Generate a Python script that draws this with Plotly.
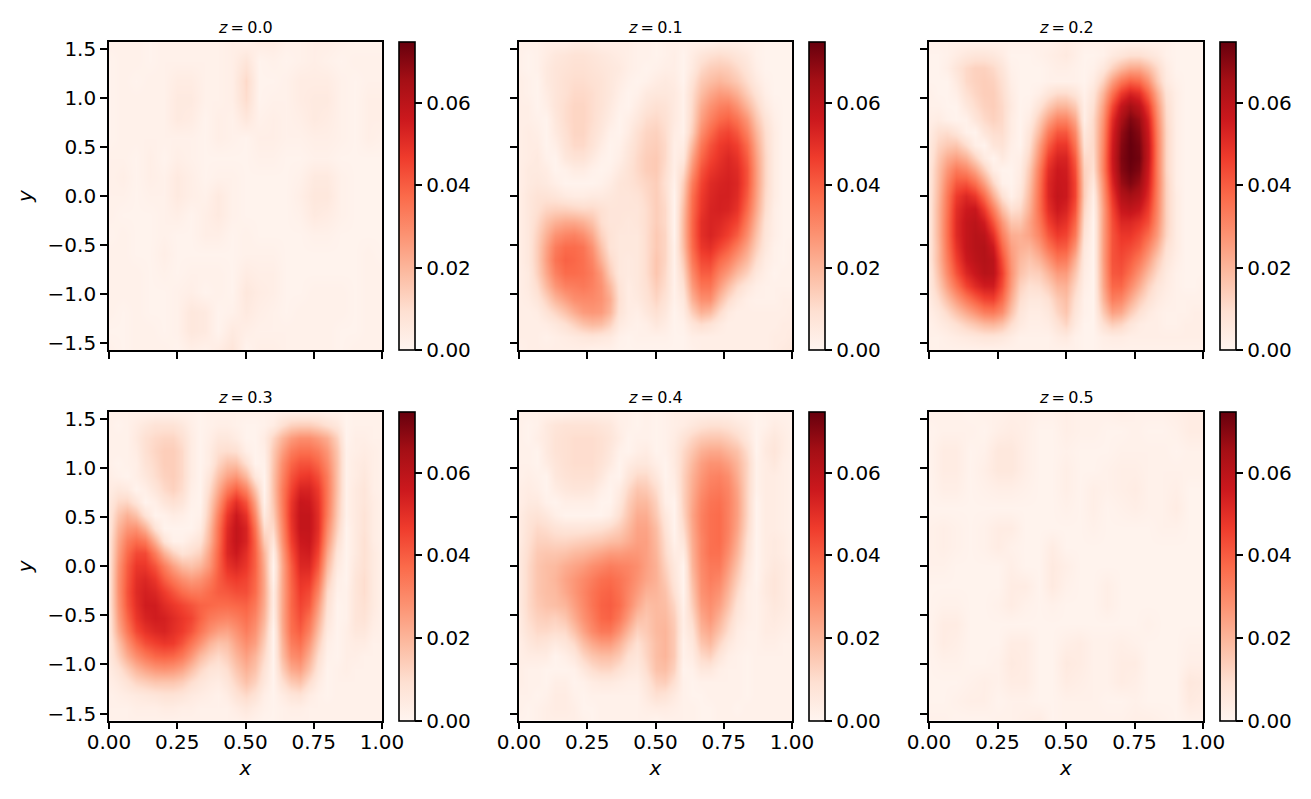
import numpy as np
import plotly.graph_objects as go

# values, in units of 0.001, rows listed from y=+pi/2 down to y=-pi/2
Z00 = [
[2,2,2,1,2,2,2,2,2,3,2,4,4,2,2,3,3,2,1,1,1],
[1,2,2,1,2,2,2,2,2,3,7,1,2,1,2,3,2,1,2,2,2],
[1,2,1,2,2,4,4,2,2,3,11,1,1,2,4,4,4,2,1,2,2],
[1,2,2,2,2,5,5,2,2,3,10,1,2,2,4,5,5,2,1,3,3],
[1,2,2,2,2,5,4,1,3,2,6,2,3,2,3,5,4,2,1,3,3],
[1,2,2,2,2,2,2,1,3,2,1,3,3,2,2,3,3,2,1,3,2],
[2,2,1,3,1,3,2,1,1,1,1,2,2,1,1,2,2,1,1,1,1],
[2,3,1,3,2,5,3,1,2,2,1,1,1,1,2,5,5,2,1,1,1],
[2,2,1,2,2,5,3,2,5,2,1,1,1,1,3,6,6,2,1,1,1],
[2,1,1,1,2,3,1,3,5,2,1,1,1,1,2,5,4,2,1,1,1],
[1,2,1,1,2,1,1,3,3,1,2,1,1,1,1,2,2,1,1,1,1],
[2,2,1,1,3,1,1,1,1,1,2,2,2,1,1,1,1,1,1,2,1],
[2,2,2,1,2,1,2,2,2,1,4,3,3,1,1,1,1,1,1,2,2],
[2,2,2,1,1,2,3,1,2,1,6,4,3,1,1,2,2,2,1,2,2],
[2,1,2,1,1,2,6,5,1,2,5,3,2,1,2,2,2,2,1,2,2],
[1,1,2,2,1,2,6,5,1,5,3,2,2,2,2,2,2,1,1,2,2],
[2,1,2,2,2,1,3,2,4,7,1,3,3,2,2,2,2,1,2,2,2],
]
Z01 = [
[2,2,2,3,3,3,4,4,4,3,3,3,3,2,2,1,2,2,2,2,2,2,3,3,3,2,2,1,1,1,1],
[2,1,2,4,6,7,8,8,7,6,5,4,3,2,2,1,2,3,1,4,7,9,10,9,7,5,2,1,1,1,1],
[2,1,2,5,7,8,9,9,8,7,6,5,3,2,1,2,3,3,1,5,11,14,15,14,11,7,3,1,1,1,1],
[3,2,1,5,7,9,10,10,9,8,6,4,2,1,2,4,5,4,1,8,15,18,20,18,15,10,5,2,1,1,1],
[3,2,1,4,7,9,11,11,10,8,6,3,1,2,5,6,6,5,2,10,18,23,26,25,21,14,8,3,1,1,1],
[3,3,1,3,7,10,12,12,10,8,5,2,1,4,7,9,8,5,2,11,22,28,32,33,28,20,12,5,2,1,1],
[3,3,2,1,6,10,12,12,10,7,4,1,3,6,10,11,9,5,2,12,25,32,37,39,35,27,16,8,3,1,1],
[3,4,3,1,5,9,12,12,9,6,2,1,4,9,12,13,10,4,2,14,29,37,43,45,41,32,20,10,4,1,1],
[3,4,4,1,3,8,11,11,8,4,1,2,6,10,13,14,11,3,4,19,34,42,47,49,46,37,23,11,4,1,1],
[3,4,5,2,1,6,8,8,5,2,1,3,7,11,14,15,11,3,6,24,38,45,49,52,49,40,25,12,4,1,1],
[3,5,5,4,1,2,4,4,2,1,2,5,8,11,14,15,10,3,10,28,42,48,51,53,51,42,26,12,4,1,1],
[3,5,6,5,3,1,1,1,1,2,4,7,8,10,12,14,9,2,14,33,45,51,53,54,52,42,26,12,4,1,1],
[3,6,8,8,7,5,4,4,5,5,6,7,7,8,11,14,10,1,16,36,47,52,54,54,51,40,25,11,4,1,1],
[3,6,9,12,13,13,12,11,11,9,7,7,7,7,10,14,11,1,18,37,48,53,54,53,49,37,23,10,3,1,1],
[3,6,11,17,21,23,23,21,17,10,7,7,6,7,10,14,11,1,19,38,50,53,52,49,45,33,20,8,3,1,1],
[3,6,13,21,28,31,32,29,23,13,8,6,6,6,10,15,12,1,19,38,50,53,50,46,40,29,17,7,3,1,1],
[3,6,14,24,33,37,37,35,28,17,8,6,6,6,10,15,12,2,18,37,48,50,45,40,33,24,14,6,2,1,2],
[3,6,14,25,35,39,38,36,31,21,11,6,5,6,10,16,12,2,15,34,44,45,38,33,26,19,10,4,2,1,2],
[3,5,13,23,32,37,37,36,33,26,14,6,5,6,10,16,11,2,12,30,40,40,32,26,19,13,6,3,1,2,2],
[3,5,10,19,27,32,33,34,32,28,19,8,4,6,9,14,10,2,9,26,35,35,26,18,11,6,3,2,2,2,2],
[3,4,7,13,20,25,29,30,30,28,22,9,4,5,8,12,8,2,6,21,29,29,19,11,6,3,2,2,2,3,3],
[3,3,4,8,12,17,22,26,27,26,20,8,4,3,6,9,6,1,4,14,21,19,11,5,3,3,3,3,3,3,4],
[3,3,3,4,6,9,13,17,19,18,13,5,3,2,3,6,4,1,2,7,10,8,5,3,3,3,3,3,3,4,4],
[3,3,3,2,3,4,5,6,7,6,5,2,1,2,2,2,2,1,1,3,3,3,3,3,3,3,3,3,4,4,5],
[2,3,3,3,3,3,3,3,2,2,2,1,1,1,1,1,1,1,1,2,3,3,3,3,3,3,3,3,4,5,6],
]
Z02 = [
[2,2,2,2,2,2,2,2,2,2,2,2,2,2,3,4,3,2,2,2,2,2,2,2,2,2,2,1,1,1,1],
[1,1,2,4,6,7,7,6,4,1,1,1,2,3,4,5,3,1,1,2,5,7,9,9,7,5,2,1,1,1,1],
[1,1,3,7,11,13,13,11,7,2,1,1,1,2,3,3,2,1,2,6,13,19,23,23,18,11,4,1,1,1,1],
[1,1,1,5,11,13,14,13,9,3,1,1,1,2,2,2,2,1,4,13,25,34,39,37,28,15,5,2,1,1,1],
[2,1,1,3,9,12,14,14,10,4,1,1,3,7,10,10,7,2,7,20,35,47,53,50,38,22,8,3,1,1,1],
[2,2,1,1,6,10,13,14,11,5,1,2,8,15,20,20,15,3,9,25,44,58,65,60,47,27,10,3,1,1,1],
[3,4,2,1,2,7,11,13,11,4,1,4,14,24,31,31,23,3,11,28,50,64,71,67,53,30,11,3,1,1,1],
[4,9,10,7,2,1,7,10,10,4,1,7,19,33,41,41,30,6,11,30,53,68,74,70,56,32,12,3,1,1,1],
[5,12,15,16,10,3,1,7,8,3,1,9,25,40,48,48,35,8,11,31,55,70,75,72,58,33,12,3,1,1,1],
[5,15,22,25,21,13,5,1,5,2,3,12,29,46,53,53,40,11,10,32,56,71,75,73,58,33,12,3,1,1,1],
[6,17,27,34,31,24,14,4,1,1,4,15,33,50,56,55,43,13,9,32,55,70,74,71,56,33,12,3,1,1,1],
[6,18,31,41,42,36,25,12,2,1,5,17,35,52,57,56,45,14,6,29,52,67,71,67,54,33,13,3,1,1,1],
[6,19,34,47,52,48,37,22,9,2,7,19,36,52,58,56,45,14,3,27,48,62,65,62,51,32,13,4,1,1,1],
[6,20,35,50,56,57,47,33,18,9,11,21,36,50,56,53,42,12,2,25,45,57,59,56,47,31,13,4,1,1,1],
[6,20,36,51,58,60,55,42,27,16,16,24,34,46,52,49,38,10,1,25,43,52,52,49,43,29,13,4,1,1,1],
[6,20,36,51,58,61,60,50,33,22,21,24,31,41,47,45,34,8,1,25,42,48,48,44,37,26,12,4,1,1,1],
[6,19,35,49,58,61,62,56,38,25,21,20,26,35,41,40,28,6,1,25,42,46,44,40,31,21,9,4,1,1,1],
[6,19,33,46,56,60,62,60,43,27,19,16,20,27,34,33,21,5,1,25,42,44,40,34,25,15,7,3,1,1,1],
[5,17,30,42,52,57,61,60,46,28,17,13,14,20,26,26,16,4,1,24,41,42,36,28,19,11,5,2,1,1,1],
[5,14,25,35,45,51,55,55,43,26,13,9,10,14,20,21,12,3,1,23,38,38,30,22,13,7,4,2,1,1,2],
[4,10,18,26,34,40,45,46,37,22,10,6,6,9,15,18,9,2,1,20,33,31,23,15,9,5,3,2,2,2,2],
[3,6,11,17,23,28,33,34,29,17,7,4,4,6,12,16,7,2,1,15,25,23,15,9,5,3,2,2,2,3,3],
[2,4,6,9,13,16,19,20,17,10,5,3,3,4,8,12,5,1,1,9,14,12,7,4,3,3,2,2,3,3,3],
[2,2,3,4,5,6,7,7,6,4,2,2,2,2,4,5,2,1,1,3,4,4,3,3,3,3,3,3,3,3,3],
[2,2,2,2,2,2,2,2,2,2,2,2,2,2,2,2,2,1,1,2,2,2,2,2,2,2,2,2,2,2,2],
]
Z03 = [
[2,2,2,2,2,2,2,2,2,2,1,2,2,2,2,2,2,2,2,3,3,3,3,3,2,2,1,2,2,2,2],
[2,1,2,4,6,8,8,8,6,3,1,2,3,3,2,1,1,2,4,9,13,14,14,12,9,6,1,2,2,2,2],
[2,2,2,5,9,11,12,12,9,4,1,3,6,6,4,1,1,4,12,20,26,29,29,26,22,13,1,3,3,2,2],
[2,2,2,4,9,12,14,14,11,4,1,4,9,10,9,3,1,3,15,25,33,36,36,33,27,16,2,3,4,3,2],
[2,1,2,3,8,11,14,14,11,4,1,4,12,17,17,9,1,2,16,29,38,42,42,38,30,17,2,4,5,3,2],
[3,2,1,3,6,10,13,14,11,4,1,7,17,24,27,19,6,1,17,31,42,47,48,43,33,17,2,4,6,3,2],
[4,6,5,1,3,7,11,13,10,3,1,10,22,33,39,31,16,1,17,33,45,53,53,47,34,17,2,5,7,3,2],
[5,11,12,7,1,3,7,9,7,2,1,13,27,42,50,42,24,2,16,33,48,57,56,49,34,16,2,5,7,4,2],
[6,16,21,17,8,1,2,4,3,1,2,15,32,48,56,49,30,5,14,32,49,58,58,50,33,15,2,5,8,4,2],
[6,20,27,28,21,8,1,1,1,1,4,18,35,51,58,53,35,10,11,30,48,58,58,50,30,13,1,5,8,4,2],
[7,23,33,37,34,21,8,2,2,5,8,20,36,52,58,53,38,15,7,28,46,56,57,48,27,10,1,5,9,4,2],
[7,25,37,44,44,33,21,13,8,10,13,24,38,52,56,50,39,20,3,25,43,54,55,45,23,7,1,5,9,5,2],
[7,27,40,48,48,42,33,25,19,17,20,27,39,49,52,48,39,22,1,23,40,52,52,41,19,5,1,6,9,5,2],
[7,28,41,50,52,48,40,34,29,26,28,33,40,45,47,45,38,23,2,23,39,49,48,36,15,3,1,7,10,5,2],
[7,28,42,51,54,52,47,42,37,34,34,37,40,41,43,43,37,23,4,23,38,47,44,31,11,2,2,7,10,5,2],
[7,27,41,50,55,55,51,48,45,42,39,38,37,37,38,39,34,22,4,23,38,45,41,26,9,1,2,7,9,5,2],
[6,25,38,48,53,55,54,51,48,45,39,34,32,31,33,36,31,20,3,23,37,43,36,22,7,1,2,7,8,4,2],
[6,22,34,44,49,52,53,50,47,42,35,29,25,24,28,33,28,17,1,22,36,40,32,18,5,1,3,6,6,3,2],
[5,17,28,37,43,46,48,47,42,35,28,21,17,18,24,29,25,14,1,20,33,36,27,14,3,1,3,4,4,2,2],
[5,13,22,29,34,38,39,38,34,27,19,14,11,14,20,25,20,11,1,18,29,31,22,10,2,1,3,3,2,2,2],
[4,8,14,20,24,27,28,27,24,18,12,8,7,10,16,21,17,8,1,14,23,25,17,7,1,2,3,2,2,2,2],
[3,5,8,12,14,16,16,16,14,10,7,5,4,7,12,17,13,6,1,9,15,17,10,4,1,2,2,2,2,2,2],
[2,3,4,5,6,7,8,8,7,5,4,3,2,4,8,11,8,3,1,4,7,8,4,2,1,2,2,2,2,2,2],
[2,2,2,3,3,3,4,4,3,3,2,2,2,2,4,6,4,2,1,2,3,3,2,2,2,2,2,2,2,2,2],
[2,2,2,2,2,2,2,2,2,2,2,2,2,2,2,3,2,1,1,2,2,2,2,2,2,2,2,2,2,2,2],
]
Z04 = [
[2,2,2,2,2,2,3,3,3,3,3,2,2,1,2,1,2,3,3,3,3,3,3,3,2,2,1,2,2,2,2],
[2,1,2,5,7,8,8,8,8,7,6,3,2,1,2,1,2,3,4,6,8,9,9,8,6,4,1,2,4,3,2],
[2,1,3,5,8,9,10,10,10,9,7,4,1,2,2,1,2,4,8,12,15,16,16,14,11,6,1,4,6,4,2],
[2,2,1,5,8,9,10,10,10,9,6,2,1,3,4,1,2,5,11,16,21,23,23,20,17,10,1,5,7,4,2],
[2,2,1,4,7,9,10,10,10,8,5,1,4,6,6,3,1,5,12,19,25,28,28,25,20,12,2,4,6,3,2],
[2,3,2,1,6,8,9,9,9,6,2,1,7,11,11,6,1,4,13,21,27,31,32,29,22,12,2,4,4,3,2],
[3,4,3,1,4,6,7,7,6,3,1,4,11,16,15,10,2,3,13,22,29,33,34,31,24,12,2,4,4,3,2],
[3,5,5,2,1,3,3,3,3,1,1,6,14,19,19,13,3,1,13,23,31,35,36,32,25,12,1,4,4,3,2],
[4,7,8,6,3,1,1,1,1,1,3,9,16,22,22,15,6,1,12,24,32,36,37,32,25,12,1,4,4,3,2],
[4,8,11,10,8,7,7,7,8,9,11,14,19,24,24,18,8,1,10,23,32,36,37,32,24,11,1,4,4,3,2],
[4,9,13,13,12,12,13,14,15,16,18,19,22,25,25,19,10,2,7,22,31,36,37,31,22,9,1,4,5,4,2],
[5,10,15,16,16,17,19,20,22,24,26,26,27,27,25,20,11,4,4,21,31,36,36,29,20,8,1,4,5,4,2],
[5,11,16,18,19,22,24,26,29,31,33,32,31,29,25,21,13,6,1,20,30,34,34,26,17,6,1,4,6,5,3],
[5,11,16,18,20,24,27,30,33,36,37,35,32,28,24,21,15,7,1,18,29,33,31,23,14,5,1,5,7,5,3],
[5,11,16,18,19,23,27,31,35,38,39,36,31,26,21,20,17,9,1,16,28,31,28,20,11,3,2,5,7,5,3],
[5,11,15,17,18,20,25,30,35,39,40,37,30,23,18,19,18,12,2,14,26,29,25,17,8,3,2,4,6,5,3],
[4,10,13,14,13,16,22,28,33,38,39,34,26,18,16,19,19,14,3,11,23,27,21,13,6,3,2,4,5,4,3],
[4,8,11,11,10,11,17,24,30,34,34,28,20,13,15,19,20,15,3,8,20,23,17,10,4,2,2,4,4,3,2],
[3,6,8,7,5,7,11,18,23,26,26,21,14,9,13,18,20,15,2,6,16,19,12,6,3,2,2,3,3,2,2],
[3,4,4,4,1,3,6,12,16,18,18,15,9,7,12,18,20,15,2,4,11,13,7,3,2,1,2,2,2,2,2],
[3,2,2,1,1,1,2,6,10,12,12,9,6,5,10,17,18,13,1,2,6,6,3,2,2,1,2,2,2,2,2],
[3,2,2,1,3,3,1,2,4,5,5,4,3,3,7,13,14,9,2,1,2,2,2,2,2,1,2,2,2,2,2],
[2,2,1,2,4,4,2,1,2,2,2,2,2,2,5,9,8,5,2,1,1,2,2,2,2,1,2,2,2,2,2],
[2,1,2,3,4,4,3,1,1,2,2,2,2,2,3,4,4,3,2,2,1,1,2,2,1,2,2,2,2,2,2],
[1,1,2,3,3,3,3,2,1,2,2,2,2,2,2,1,2,2,2,2,1,1,2,2,2,2,2,2,2,2,2],
]
Z05 = [
[2,2,2,1,2,2,3,3,2,2,3,2,2,2,3,2,2,2,3,4,4],
[1,2,2,2,1,3,4,3,1,1,3,2,2,1,1,2,1,1,2,4,4],
[1,4,4,1,2,6,6,3,1,1,2,1,1,1,2,2,2,2,1,2,2],
[1,4,4,1,3,6,6,3,1,1,3,1,1,2,3,3,2,2,2,2,2],
[1,3,3,1,2,3,3,2,1,1,3,1,3,2,3,4,2,2,3,1,1],
[1,1,1,1,1,1,1,1,1,1,2,1,3,1,2,3,2,2,4,1,1],
[2,3,2,1,2,4,4,1,1,1,1,1,2,1,1,1,1,2,2,1,1],
[2,3,2,1,2,4,2,1,1,4,1,1,1,1,1,1,1,1,1,1,1],
[2,2,1,1,1,1,3,1,1,5,3,1,1,1,1,1,1,1,1,1,1],
[1,1,1,1,1,1,4,4,1,5,2,1,1,3,1,1,1,1,1,1,1],
[1,2,2,1,1,2,4,2,1,2,1,1,1,3,1,1,1,1,1,1,1],
[1,4,4,1,1,1,1,1,1,1,1,1,1,1,1,1,2,1,1,1,1],
[1,4,3,1,1,1,4,4,1,1,3,4,2,2,3,2,1,1,1,2,2],
[1,2,2,1,1,2,5,4,1,1,5,4,2,2,4,4,1,1,1,3,3],
[1,1,1,2,3,2,4,4,1,1,4,3,2,2,4,3,1,1,1,6,5],
[1,1,2,3,3,1,2,2,1,1,2,2,2,1,1,2,1,1,1,5,4],
[2,2,1,1,1,2,2,3,4,1,2,2,2,2,2,3,3,2,1,2,2],
]
PANELS = [Z00, Z01, Z02, Z03, Z04, Z05]
TITLES = ["0.0", "0.1", "0.2", "0.3", "0.4", "0.5"]
X_TICKS = [0.0, 0.25, 0.5, 0.75, 1.0]
X_LABELS = ["0.00", "0.25", "0.50", "0.75", "1.00"]
Y_TICKS = [-1.5, -1.0, -0.5, 0.0, 0.5, 1.0, 1.5]
Y_LABELS = ["\u22121.5", "\u22121.0", "\u22120.5", "0.0", "0.5", "1.0", "1.5"]
CB_TICKS = [0.0, 0.02, 0.04, 0.06]
CB_LABELS = ["0.00", "0.02", "0.04", "0.06"]
ZMAX = 0.0748

REDS = ["#fff5f0", "#fee0d2", "#fcbba1", "#fc9272", "#fb6a4a",
        "#ef3b2c", "#cb181d", "#a50f15", "#67000d"]
colorscale = [[i / 8, c] for i, c in enumerate(REDS)]

W, H = 1311, 799
FONT = "DejaVu Sans"
FS = 20
LW = 1.6
TL = 7
LEFT = [109, 519, 929]
RIGHT = [382, 792, 1203]
TOP = [42, 412]
BOTTOM = [350, 720.5]
CB_LEFT = [399, 809, 1220]
CB_W = 16

fig = go.Figure()
layout = dict(
    width=W, height=H, autosize=False,
    margin=dict(l=0, r=0, t=0, b=0, autoexpand=False),
    paper_bgcolor="white", plot_bgcolor="white",
    font=dict(family=FONT, size=FS, color="black"),
    showlegend=False,
)
annotations = []
for i, Z in enumerate(PANELS):
    r, c = divmod(i, 3)
    n = i + 1
    sfx = "" if n == 1 else str(n)
    arr = np.array(Z, dtype=float)[::-1] / 1000.0
    x_grid = np.linspace(0, 1, arr.shape[1])
    y_grid = np.linspace(-np.pi / 2, np.pi / 2, arr.shape[0])
    fig.add_trace(go.Heatmap(
        z=arr, x=x_grid, y=y_grid,
        zmin=0, zmax=ZMAX, zsmooth="best", colorscale=colorscale,
        xaxis="x" + sfx, yaxis="y" + sfx, hoverinfo="skip",
        colorbar=dict(
            x=CB_LEFT[c] / W, xanchor="left", xpad=0, ypad=0,
            y=1 - BOTTOM[r] / H, yanchor="bottom",
            len=(BOTTOM[r] - TOP[r]), lenmode="pixels",
            thickness=CB_W, thicknessmode="pixels",
            outlinecolor="black", outlinewidth=LW,
            ticks="outside", ticklen=TL, tickwidth=LW, tickcolor="black",
            tickmode="array", tickvals=CB_TICKS, ticktext=CB_LABELS,
            tickfont=dict(family=FONT, size=FS, color="black"),
        ),
    ))
    axis_common = dict(
        showgrid=False, zeroline=False, showline=True, mirror=True,
        linecolor="black", linewidth=LW, ticks="outside", ticklen=TL,
        tickwidth=LW, tickcolor="black",
        tickfont=dict(family=FONT, size=FS, color="black"),
    )
    xa = dict(axis_common, domain=[LEFT[c] / W, RIGHT[c] / W], range=[0, 1],
              anchor="y" + sfx, tickmode="array", tickvals=X_TICKS,
              ticktext=X_LABELS, showticklabels=(r == 1), tickangle=0,
              ticklabelstandoff=-4)
    ya = dict(axis_common, domain=[1 - BOTTOM[r] / H, 1 - TOP[r] / H],
              range=[-np.pi / 2, np.pi / 2], anchor="x" + sfx,
              tickmode="array", tickvals=Y_TICKS, ticktext=Y_LABELS,
              showticklabels=(c == 0))
    if r == 1:
        xa["title"] = dict(text="<i>x</i>", standoff=8,
                           font=dict(family=FONT, size=FS, color="black"))
    if c == 0:
        ya["title"] = dict(text="<i>y</i>", standoff=10,
                           font=dict(family=FONT, size=FS, color="black"))
    layout["xaxis" + sfx] = xa
    layout["yaxis" + sfx] = ya
    annotations.append(dict(
        text="<i>z</i>\u2009=\u2009" + TITLES[i],
        xref="x" + sfx + " domain", yref="y" + sfx + " domain",
        x=0.5, y=1, xanchor="center", yanchor="bottom", yshift=3,
        showarrow=False, font=dict(family=FONT, size=16, color="black"),
    ))
layout["annotations"] = annotations
fig.update_layout(**layout)
fig.write_html("out.html", post_script="document.body.style.margin='0';",
               config=dict(displayModeBar=False))
